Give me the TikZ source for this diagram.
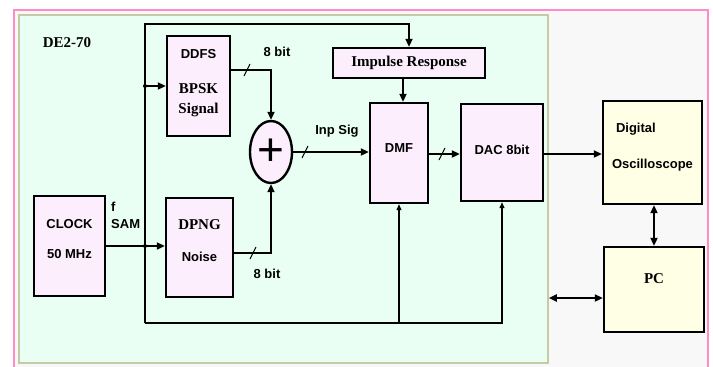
\documentclass[tikz,border=0pt]{standalone}
\usepackage{fontspec}
\setmainfont{Liberation Serif}
\setsansfont{Liberation Sans}
\usetikzlibrary{arrows.meta,shapes.geometric}
\definecolor{boxpink}{HTML}{FCEEFC}
\definecolor{boxyellow}{HTML}{FFFFE6}
\definecolor{boardbg}{HTML}{EAFFF3}
\definecolor{boardline}{HTML}{C5CBA5}
\definecolor{pageline}{HTML}{FF8CC6}
\definecolor{pagebg}{HTML}{F8F8F8}
\newcommand{\sfb}{\sffamily\bfseries\fontsize{13}{16}\selectfont}
\newcommand{\rmb}{\rmfamily\bfseries\fontsize{15}{18}\selectfont}
\newcommand{\tick}[1]{\draw[line width=1pt] (#1) ++(-3,6) -- ++(6,-12);}

\begin{document}
\begin{tikzpicture}[x=1pt,y=-1pt,>={Triangle[length=8pt,width=7pt]},
  b/.style={draw,line width=2.4pt,fill=boxpink,align=center,inner sep=0pt},
  w/.style={line width=2pt},
  bus/.style={line width=1.3pt,>={Triangle[length=6pt,width=5pt]}},
  jn/.style={circle,fill,inner sep=0pt,minimum size=4pt}]
  \useasboundingbox (0,0) rectangle (713,367);
  \fill[pagebg] (14,10) rectangle (708,367);
  \draw[pageline,line width=1.5pt] (14,367) -- (14,10) -- (708,10) -- (708,367);
  \node[draw=boardline,fill=boardbg,line width=1.5pt,inner sep=0pt,
    minimum width=529pt,minimum height=348pt] (de2) at (283.5,189) {};
  \node[font=\rmb] (name) at (67,43) {DE2-70};
  % blocks
  \node[b,font=\sfb,minimum width=71pt,minimum height=100pt,text depth=14pt] (clk) at (69.5,246) {CLOCK\\[14pt]50 MHz};
  \node[b,font=\rmb,minimum width=63pt,minimum height=100pt,text depth=9pt] (ddfs) at (198.5,86) {{\sfb DDFS}\\[17pt]BPSK\\[2pt]Signal};
  \node[b,font=\rmb,minimum width=67pt,minimum height=99pt,text depth=14pt] (dpng) at (199.5,247.5) {DPNG\\[14pt]{\sfb Noise}};
  \node[b,ellipse,font=\sffamily\fontsize{46}{46}\selectfont,minimum width=42pt,minimum height=62pt] (sum) at (271,152) {+};
  \node[b,font=\rmb,minimum width=152pt,minimum height=30pt] (imp) at (409,63) {Impulse Response};
  \node[b,font=\sfb,minimum width=58pt,minimum height=100pt,text depth=10pt] (dmf) at (399,153) {DMF};
  \node[b,font=\sfb,minimum width=82pt,minimum height=97pt,text depth=5pt] (dac) at (502,152.5) {DAC 8bit};
  \node[b,fill=boxyellow,font=\sfb,align=left,minimum width=99pt,minimum height=103pt,text depth=13pt] (osc) at (652.5,152.5) {\hspace*{4pt}Digital\\[20pt]Oscilloscope};
  \node[b,fill=boxyellow,font=\rmb,minimum width=100pt,minimum height=85pt,text depth=21pt] (pc) at (654,289.5) {PC};
  % labels
  \node[font=\sfb] (bita) at (277,52) {8 bit};
  \node[font=\sfb] (bitb) at (267,274) {8 bit};
  \node[font=\sfb] (inp) at (337,131) {Inp Sig};
  \node[font=\sfb,align=left,anchor=west,inner sep=0pt] (fsam) at (111,215) {f\\[1pt]SAM};
  % bus
  \coordinate (bt) at (145,24);
  \coordinate (bb) at (145,323);
  \draw[w,->] (bb) -- (bt) -| (imp.north);
  \draw[w,->] (bt |- ddfs.west) -- (ddfs.west);
  \node[jn] (ja) at (bt |- ddfs.west) {};
  \node[jn] (jb) at (bt |- clk.east) {};
  \draw[bus,->] (bb) -| (dac.south);
  \draw[bus,->] (dmf.south |- bb) -- (dmf.south);
  % signal path
  \draw[w,->] (clk.east) -- (clk.east -| dpng.west);
  \draw[w,->] ([yshift=16pt]ddfs.east) -| (sum.north);
  \draw[w,->] ([yshift=-5.5pt]dpng.east) -| (sum.south);
  \draw[w,->] (sum.east) -- (sum.east -| dmf.west);
  \draw[w,->] ([xshift=-6pt]imp.south) -- ([xshift=-6pt]imp.south |- dmf.north);
  \draw[w,->] ([yshift=-1pt]dmf.east) -- ([yshift=-1pt]dmf.east -| dac.west);
  \draw[w,->] ([yshift=-1.5pt]dac.east) -- ([yshift=-1.5pt]dac.east -| osc.west);
  \draw[w,<->] (pc.north) -- (pc.north |- osc.south);
  \draw[w,<->] ([yshift=-8.5pt]pc.west) -- ([yshift=-8.5pt]pc.west -| de2.east);
  \tick{247,70}
  \tick{253,253}
  \tick{305,152}
  \tick{442,154}
\end{tikzpicture}
\end{document}
